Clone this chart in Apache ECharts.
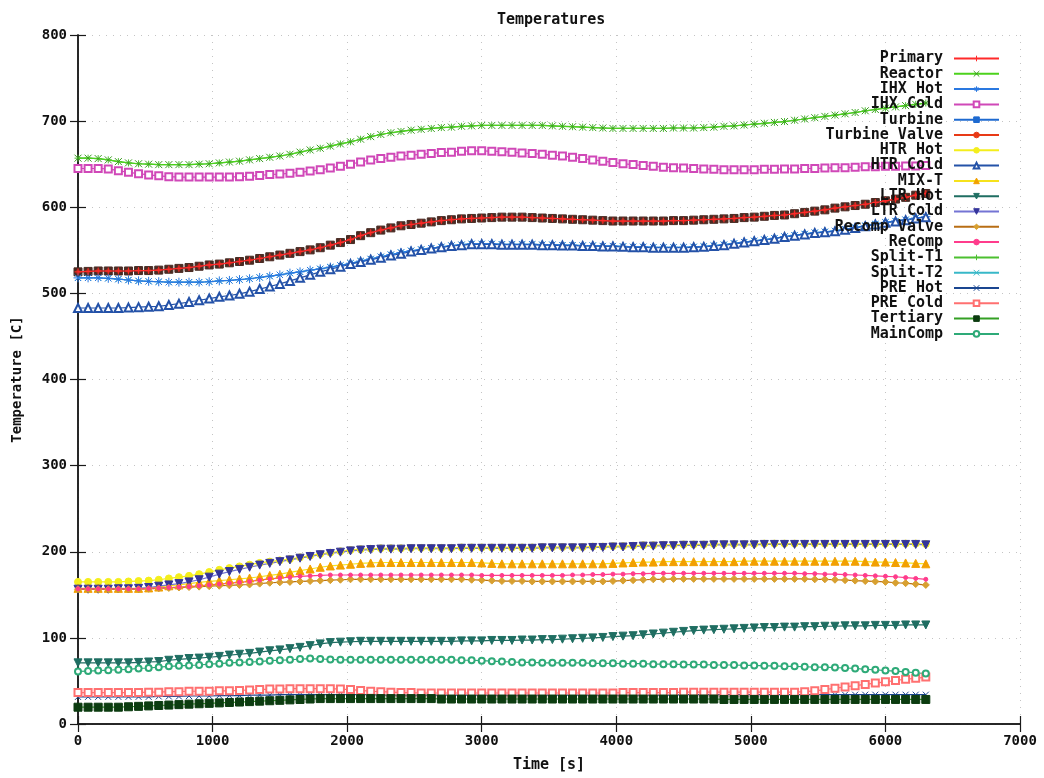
<!DOCTYPE html>
<html>
<head>
<meta charset="utf-8">
<script src="https://cdn.jsdelivr.net/npm/echarts@6/dist/echarts.min.js"></script>
<style>
  html, body { margin: 0; padding: 0; background: #fff; }
  #chart { width: 1044px; height: 778px; }
</style>
</head>
<body>
<div id="chart"></div>
<script>
// Sample times [s]
const time = [0,75,150,225,300,375,450,525,600,675,750,825,900,975,1050,1125,1200,1275,1350,1425,
  1500,1575,1650,1725,1800,1875,1950,2025,2100,2175,2250,2325,2400,2475,2550,2625,2700,2775,2850,2925,
  3000,3075,3150,3225,3300,3375,3450,3525,3600,3675,3750,3825,3900,3975,4050,4125,4200,4275,4350,4425,
  4500,4575,4650,4725,4800,4875,4950,5025,5100,5175,5250,5325,5400,5475,5550,5625,5700,5775,5850,5925,
  6000,6075,6150,6225,6300];

// Temperatures [C]
const reactor = [657,657,656.5,655,653,651.5,650.5,650,649.5,649.5,
  649.5,649.5,650,650.5,651.5,652.5,653.5,655,656.5,658,
  659.5,661.5,664,666.5,668.5,671,673.5,676,679,682,
  684.5,686.5,688,689.5,690.5,691.5,692.5,693,694,694.5,
  695,695,695,695,695,695,695,694.5,694,693.5,
  693,692.5,692,691.5,691.5,691.5,691.5,691.5,691.5,692,
  692,692,692.5,693,694,694.5,695.5,696.5,697.5,698.5,
  699.5,701,702.5,704,705.5,707,708.5,710,712,713.5,
  715,716.5,718,719.5,721];

const ihxCold = [645,645,645,644.5,642.5,640.5,639,637.5,636.5,635.5,
  635,635,635,635,635,635,635.5,636,637,638,
  638.5,639.5,640.5,642,643.5,645.5,647.5,650,652.5,655,
  656.5,658,659.5,660.5,661.5,662.5,663.5,664,665,665.5,
  665.5,665,664.5,664,663,662.5,661.5,660.5,659.5,658,
  656.5,655,653.5,652,650.5,649.5,648.5,647.5,646.5,646,
  645.5,645,644.5,644,643.5,643.5,643.5,643.5,644,644,
  644.5,644.5,645,645,645.5,646,646,646.5,647,647,
  647.5,647.5,648,648,648.5];

const primaryLoop = [525,525.5,526,526,526,526,526.5,526.5,527,528,
  529,530,531.5,533,534,535.5,537,538.5,540.5,542.5,
  544.5,546.5,548.5,550.5,553,556,559,562.5,567,570.5,
  573.5,576,578.5,580,581.5,583,584.5,585.5,586.5,587,
  587.5,588,588.5,588.5,588.5,588,587.5,587,586.5,586,
  585.5,585,584.5,584,584,584,584,584,584,584.5,
  584.5,585,585.5,586,586.5,587,588,588.5,589.5,590.5,
  591,592.5,594,595.5,597,599,600.5,602,603.5,605.5,
  607.5,609.5,611.5,614,616];

const ihxHot = [518,518,518,517.5,516.5,515.5,514.5,514,513.5,513,
  513,513,513,513.5,514.5,515,516,517,518.5,520,
  521.5,523.5,525,527,528.5,530.5,532.5,535,537.5,540,
  542.5,545,547.5,549.5,551,552.5,554,555.5,556.5,557.5,
  557.5,557.5,557,557,557,557,556.5,556.5,556,556,
  555.5,555.5,555,555,554.5,554,554,553.5,553.5,553.5,
  553.5,554,554.5,555.5,556.5,558,559.5,561,562.5,564,
  566,567.5,569,570.5,571.5,572.5,574.5,576.5,578.5,580.5,
  582.5,584,585.5,587.5,589];

const htrCold = [483,483,483,483,483,483.5,484,484.5,485,486.5,
  488,490,492,494,496,497.5,499.5,502,505,508,
  511,514.5,518,521.5,525,528,531,534,536.5,539,
  541.5,544,546,548.5,550.5,552,553.5,555,556,557,
  557,557,556.5,556.5,556.5,556.5,556,556,555.5,555.5,
  555,555,554.5,554.5,554,553.5,553.5,553,553,553,
  553,553.5,554,555,556,557.5,559,560.5,562,563.5,
  565.5,567,568.5,570,571,572,574,576,578,580,
  582,583.5,585,587,588.5];

const ltrCold = [156.5,156.5,156.5,156.5,157,157,157.5,158.5,160,161.5,
  163,165,167.5,170.5,174,177,179.5,182,184.5,186.5,
  188.5,190.5,192.5,194.5,196.5,198,199.5,201,202,202.5,
  203,203,203,203.5,203.5,203.5,203.5,203.5,204,204,
  204,204,204,204,204,204,204.5,204.5,204.5,204.5,
  204.5,205,205,205.5,205.5,206,206.5,206.5,207,207,
  207.5,207.5,207.5,208,208,208,208,208,208.5,208.5,
  208.5,208.5,208.5,208.5,208.5,208.5,208.5,208.5,208.5,208.5,
  208.5,208.5,208.5,208.5,208];

const htrHot = [165,165,165,165,165,165.5,166,166.5,167.5,169,
  170.5,172,174,176.5,179,181,183,185,187,188.5,
  190,191.5,193.5,195.5,197.5,199,200.5,202,203,203.5,
  204,204,204,204.5,204.5,204.5,204.5,204.5,205,205,
  205,205,205,205,205,205,205.5,205.5,205.5,205.5,
  205.5,206,206,206.5,206.5,207,207.5,207.5,208,208,
  208.5,208.5,208.5,209,209,209,209,209,209.5,209.5,
  209.5,209.5,209.5,209.5,209.5,209.5,209.5,209.5,209.5,209.5,
  209.5,209.5,209.5,209.5,209];

const mixT = [157.5,157.5,157.5,157.5,157.5,157.5,157.5,158,159,160.5,
  161.5,163,164.5,165.5,166.5,167.5,168.5,169.5,171,172.5,
  174,176,178,180,182,183.5,184.5,185.5,186.5,187,
  187.5,187.5,187.5,187.5,187.5,187.5,187.5,187.5,187.5,187.5,
  187,186.5,186,186,186,186,186,186,186,186,
  186,186,186,186.5,187,187.5,188,188,188.5,188.5,
  188.5,188.5,188.5,188.5,188.5,188.5,189,189,189,189,
  189,189,189,189,189,189,189,189,188.5,188,
  188,187.5,187,186.5,186];

const recomp = [157,157,157,157,157,157,157,157.5,158,158.5,
  159,159.5,160.5,161.5,162.5,163.5,164.5,165.5,167,168.5,
  169.5,170.5,171.5,172,172.5,173,173,173,173,173,
  173,173,173,173,173,173,173,173,173,173,
  172.5,172.5,172.5,172.5,172.5,172.5,172.5,172.5,172.5,173,
  173,173.5,173.5,174,174,174.5,174.5,175,175,175,
  175,175,175,175,175,175,175,175,175,175,
  175,175,174.5,174.5,174,174,173.5,173,172.5,172,
  171.5,171,170,169,168];

const recompValve = [156.5,156.5,156.5,156.5,156.5,156.5,156.5,157,157.5,158,
  158.5,159,159.5,160,160.5,161,161.5,162,163,164,
  164.5,165,165.5,166,166.5,167,167.5,168,168,168,
  168,168,168,168,168,168,168,168,168,167.5,
  167,166.5,166,166,166,165.5,165.5,165.5,165.5,165.5,
  165.5,165.5,165.5,166,166.5,167,167.5,168,168,168.5,
  168.5,168.5,168.5,168.5,168.5,168.5,168.5,168.5,168.5,168.5,
  168.5,168.5,168.5,168,168,167.5,167,166.5,166,165.5,
  165,164,163.5,162.5,161.5];

const ltrHot = [71,71,71,71,71,71,71.5,72,72.5,74,
  75,76,76.5,77.5,78.5,80,81,82,83.5,85,
  86,87.5,89,91,93,94.5,95,95.5,96,96,
  96,96,96,96,96,96,96,96,96.5,96.5,
  96.5,97,97,97,97.5,97.5,98,98,98.5,99,
  99.5,100,100.5,101.5,102,102.5,103.5,104.5,105.5,106.5,
  107.5,108.5,109,109.5,110,110.5,111,111.5,112,112,
  112.5,112.5,113,113,113.5,113.5,114,114,114,114.5,
  114.5,114.5,115,115,115];

const mainComp = [61,61.5,62,62.5,63,63.5,64.5,65,66,67,
  67.5,68,68.5,69.5,70,71,71.5,72,72.5,73.5,
  74,74.5,75.5,76,75.5,75,74.5,74.5,74.5,74.5,
  74.5,74.5,74.5,74.5,74.5,74.5,74.5,74.5,74,74,
  73.5,73,72.5,72,71.5,71.5,71,71,71,71,
  71,70.5,70.5,70.5,70,70,70,69.5,69.5,69.5,
  69,69,69,68.5,68.5,68.5,68,68,67.5,67.5,
  67,67,66.5,66,66,65.5,65,64.5,63.5,63,
  62,61.5,60.5,59.5,58.5];

const preCold = [36.5,36.5,36.5,36.5,36.5,36.5,36.5,37,37,37.5,
  37.5,38,38,38,38.5,38.5,39,39.5,40,40.5,
  40.5,41,41,41,41,41,40.5,40,39,38,
  37.5,37,36.5,36.5,36,36,36,36,36,36,
  36,36,36,36,36,36,36,36,36,36,
  36,36,36,36,36.5,36.5,36.5,36.5,36.5,36.5,
  37,37,37,37,37,37,37,37,37,37,
  37,37,37.5,38.5,40,41.5,43,44.5,46,47.5,
  49,50.5,52,53,54.5];

const preHot = [31.5,31.5,31.5,31.5,31.5,31.5,31.5,31.5,32,32,
  32,32.5,32.5,32.5,33,33,33,33.5,33.5,33.5,
  34,34,34,34,34,34,34,34,34,34,
  33.5,33.5,33.5,33.5,33.5,33.5,33.5,33.5,33.5,33.5,
  33.5,33.5,33.5,33.5,33.5,33.5,33.5,33.5,33.5,33.5,
  33.5,33.5,33.5,33.5,33.5,33.5,33.5,33.5,33.5,33.5,
  34,34,34,34,34,34,34,34,34,34,
  34,34,34,34,34,34,34,34,34,34,
  34,34,34,34,34];

const tertiary = [19.5,19.5,19.5,19.5,19.5,20,20.5,21,21.5,22,
  22.5,23,23.5,24,24.5,25,25.5,26,26.5,27,
  27.5,28,28.5,29,29.5,29.5,29.5,29.5,29.5,29.5,
  29.5,29.5,29.5,29.5,29.5,29.5,29,29,29,29,
  29,29,29,29,29,29,29,29,29,29,
  29,29,29,29,29,29,29,29,29,29,
  29,29,29,29,28.5,28.5,28.5,28.5,28.5,28.5,
  28.5,28.5,28.5,28.5,28.5,28.5,28.5,28.5,28.5,28.5,
  28.5,28.5,28.5,28.5,28.5];

const xTicks = { min: 0, max: 7000, step: 1000 };
const yTicks = { min: 0, max: 800, step: 100 };

// Marker shapes drawn as stroked paths
const PLUS = 'path://M-1,0L1,0M0,-1L0,1';
const CROSS = 'path://M-1,-1L1,1M-1,1L1,-1';
const STAR = 'path://M-1,0L1,0M0,-1L0,1M-0.7,-0.7L0.7,0.7M-0.7,0.7L0.7,-0.7';

const MONO = 'DejaVu Sans Mono';

function curve(name, values, o) {
  return {
    name: name,
    type: 'line',
    data: time.map((t, i) => [t, values[i]]),
    symbol: o.symbol,
    symbolSize: o.size,
    symbolRotate: o.rotate || 0,
    showAllSymbol: true,
    z: o.z || 2,
    lineStyle: { color: o.line, width: 1.2 },
    itemStyle: { color: o.mark || o.line, borderColor: o.mark || o.line, borderWidth: 1 },
    emphasis: { disabled: true },
    animation: false
  };
}

const series = [
  curve('Primary', primaryLoop, { line: '#ff2a2a', symbol: PLUS, size: 7, z: 3 }),
  curve('Reactor', reactor, { line: '#4cd21c', mark: '#3b9a22', symbol: CROSS, size: 7 }),
  curve('IHX Hot', ihxHot, { line: '#2a78e0', symbol: STAR, size: 9 }),
  curve('IHX Cold', ihxCold, { line: '#d048b8', symbol: 'emptyRect', size: 7 }),
  curve('Turbine', primaryLoop, { line: '#1e6ad0', mark: '#4a2c24', symbol: 'rect', size: 8, z: 1 }),
  curve('Turbine Valve', primaryLoop, { line: '#e83a16', mark: '#9a2a1a', symbol: 'circle', size: 4, z: 1 }),
  curve('HTR Hot', htrHot, { line: '#f4ee1c', symbol: 'circle', size: 7 }),
  curve('HTR Cold', htrCold, { line: '#2452a8', symbol: 'emptyTriangle', size: 8 }),
  curve('MIX-T', mixT, { line: '#f6e21c', mark: '#f2a000', symbol: 'triangle', size: 8 }),
  curve('LTR Hot', ltrHot, { line: '#1f6e62', symbol: 'triangle', rotate: 180, size: 8 }),
  curve('LTR Cold', ltrCold, { line: '#7474d4', mark: '#34349a', symbol: 'triangle', rotate: 180, size: 8 }),
  curve('Recomp Valve', recompValve, { line: '#b86e14', mark: '#d8a030', symbol: 'diamond', size: 7 }),
  curve('ReComp', recomp, { line: '#ff3c8c', symbol: 'circle', size: 4 }),
  curve('Split-T1', reactor, { line: '#4cc030', symbol: PLUS, size: 7, z: 1 }),
  curve('Split-T2', ihxHot, { line: '#38b8c8', symbol: CROSS, size: 6, z: 1 }),
  curve('PRE Hot', preHot, { line: '#1a4690', symbol: CROSS, size: 6 }),
  curve('PRE Cold', preCold, { line: '#ff7070', symbol: 'emptyRect', size: 7 }),
  curve('Tertiary', tertiary, { line: '#34a024', mark: '#0c3c10', symbol: 'rect', size: 8 }),
  curve('MainComp', mainComp, { line: '#2eaa78', symbol: 'emptyCircle', size: 6 })
];

// Turbine entries show their own hue in the key
const keyColors = { 'Turbine': '#1e6ad0', 'Turbine Valve': '#e83a16' };
const legendData = series.map(s => keyColors[s.name]
  ? { name: s.name, itemStyle: { color: keyColors[s.name], borderColor: keyColors[s.name], borderWidth: 1 } }
  : { name: s.name, itemStyle: { borderWidth: 1 } });

const axisLine = { show: true, lineStyle: { color: '#1a1a1a', width: 1.5 } };
const tick = { show: true, inside: true, length: 8, lineStyle: { color: '#1a1a1a', width: 1.2 } };
const grid = { show: true, lineStyle: { color: '#c4c4c4', type: [1, 6], width: 1 } };
const labelFont = { fontFamily: MONO, fontWeight: 'bold', fontSize: 14, color: '#111' };

const chart = echarts.init(document.getElementById('chart'), null, { renderer: 'canvas' });
chart.setOption({
  backgroundColor: '#ffffff',
  animation: false,
  title: {
    text: 'Temperatures',
    left: 492,
    top: 8,
    textStyle: { fontFamily: MONO, fontWeight: 'bold', fontSize: 15, color: '#111' }
  },
  grid: { left: 78, right: 24, top: 35, bottom: 49, containLabel: false },
  legend: {
    data: legendData,
    orient: 'vertical',
    right: 39,
    top: 46,
    align: 'right',
    itemWidth: 45,
    itemHeight: 7,
    itemGap: 0.3,
    selectedMode: false,
    textStyle: { fontFamily: MONO, fontWeight: 'bold', fontSize: 15, color: '#111', lineHeight: 15, padding: [0, 6, 0, 0] }
  },
  xAxis: [{
    type: 'value',
    min: xTicks.min, max: xTicks.max, interval: xTicks.step,
    name: 'Time [s]',
    nameLocation: 'middle',
    nameGap: 34,
    nameTextStyle: { fontFamily: MONO, fontWeight: 'bold', fontSize: 15, color: '#111' },
    axisLine: axisLine,
    axisTick: tick,
    axisLabel: Object.assign({ margin: 10, formatter: v => String(v) }, labelFont),
    splitLine: grid
  }, {
    type: 'value',
    position: 'top',
    min: xTicks.min, max: xTicks.max, interval: xTicks.step,
    axisLine: axisLine,
    axisTick: tick,
    axisLabel: { show: false },
    splitLine: { show: false }
  }],
  yAxis: [{
    type: 'value',
    min: yTicks.min, max: yTicks.max, interval: yTicks.step,
    name: 'Temperature [C]',
    nameLocation: 'middle',
    nameGap: 54,
    nameRotate: 90,
    nameTextStyle: { fontFamily: MONO, fontWeight: 'bold', fontSize: 14, color: '#111' },
    axisLine: axisLine,
    axisTick: tick,
    axisLabel: Object.assign({ margin: 11, formatter: v => String(v) }, labelFont),
    splitLine: grid
  }, {
    type: 'value',
    position: 'right',
    min: yTicks.min, max: yTicks.max, interval: yTicks.step,
    axisLine: axisLine,
    axisTick: tick,
    axisLabel: { show: false },
    splitLine: { show: false }
  }],
  series: series
});
</script>
</body>
</html>
